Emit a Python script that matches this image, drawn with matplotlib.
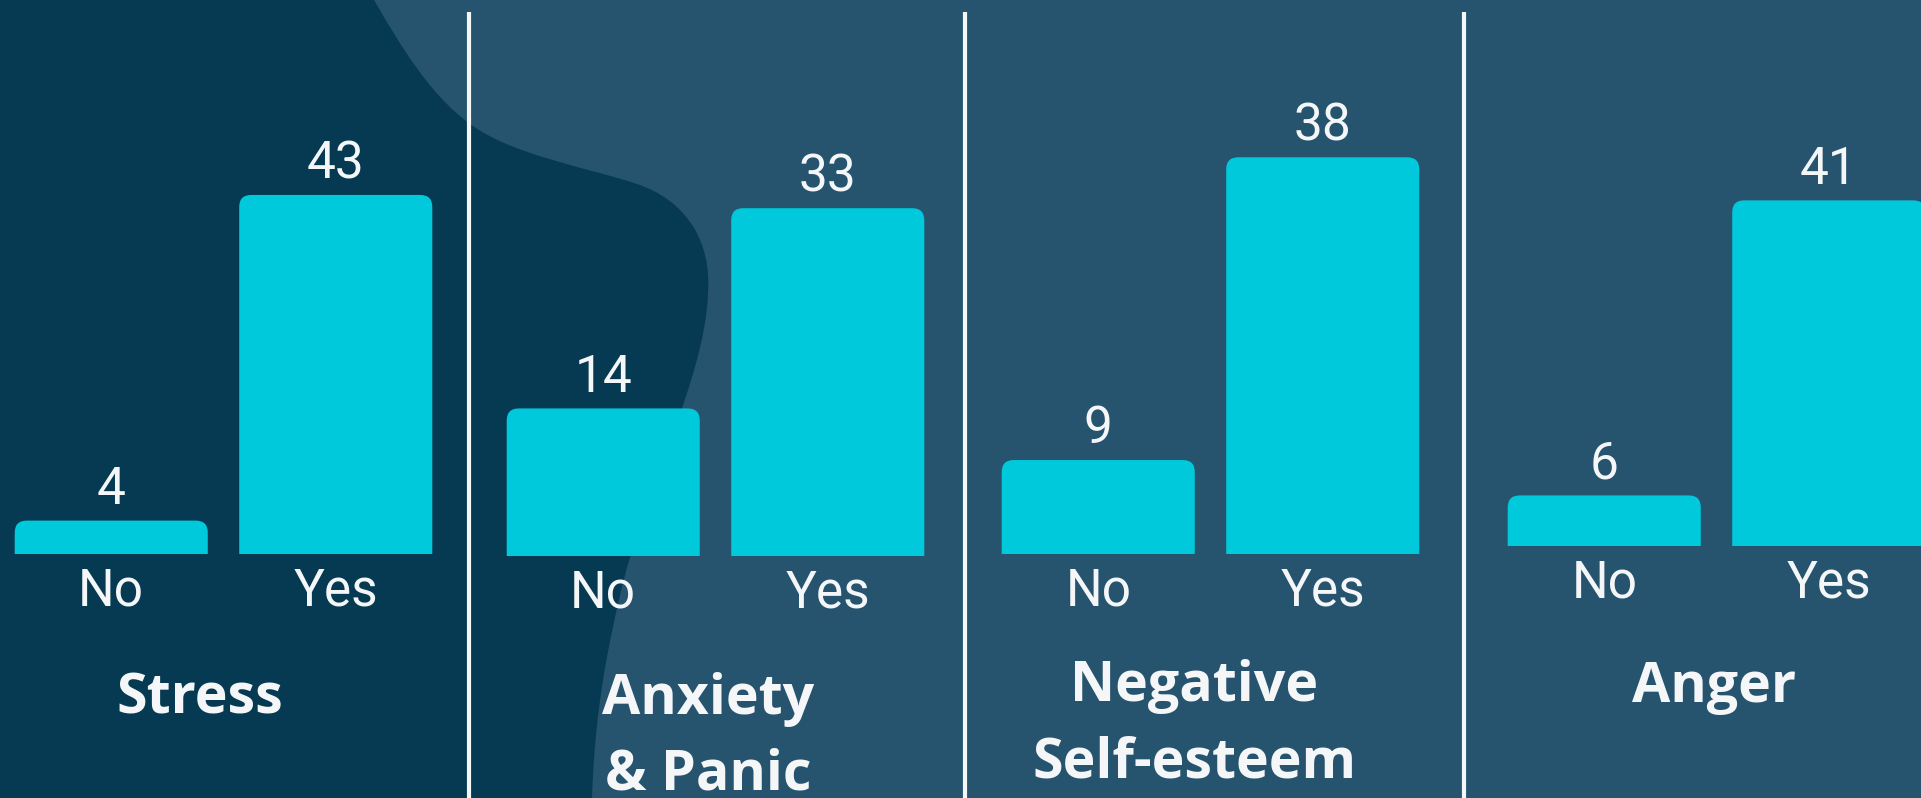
import matplotlib
matplotlib.use("Agg")
import matplotlib.pyplot as plt
from matplotlib.path import Path
from matplotlib.patches import PathPatch

# survey answers per feeling
categories = ["Stress", "Anxiety\n& Panic", "Negative\nSelf-esteem", "Anger"]
answers = ["No", "Yes"]
no_counts = [4, 14, 9, 6]
yes_counts = [43, 33, 38, 41]

W, H = 1921, 798
BG_LIGHT = "#26546f"
BG_DARK = "#053a52"
BAR = "#00c9db"
TXT = "#f4f6f8"

# layout of each little chart, in pixels
panel_left = [-1, 491, 986, 1492]
panel_base = [554, 556, 554, 546]
px_per_unit = [8.35, 10.54, 10.44, 8.43]
title_x = [200, 708, 1194, 1714]
title_y = [714, 714, 701, 702]
separators = [469, 965, 1464]
panel_w = 449

fig = plt.figure(figsize=(W / 100, H / 100), dpi=100)
fig.patch.set_facecolor(BG_LIGHT)

# background with the dark blob on the left
bg = fig.add_axes([0, 0, 1, 1])
bg.set_xlim(0, W)
bg.set_ylim(H, 0)
bg.axis("off")
verts = [(0, 0), (374, 0),
         (400, 45), (430, 95), (469, 123),
         (510, 155), (590, 168), (637, 184),
         (685, 200), (712, 240), (708, 294),
         (705, 380), (640, 500), (619, 600),
         (600, 680), (594, 740), (592, 798),
         (0, 798), (0, 0)]
codes = [Path.MOVETO, Path.LINETO] + [Path.CURVE4] * 15 + [Path.LINETO, Path.CLOSEPOLY]
bg.add_patch(PathPatch(Path(verts, codes), facecolor=BG_DARK, edgecolor="none"))
for sx in separators:
    bg.plot([sx, sx], [12, H], color=TXT, lw=3, solid_capstyle="butt")


def rounded_bar(ax, x, h, width, rx, ry):
    # bar with rounded top corners and a square bottom
    x0, x1 = x - width / 2, x + width / 2
    ry = min(ry, h / 2)
    pts = [(x0, 0), (x0, h - ry), (x0, h), (x0 + rx, h),
           (x1 - rx, h), (x1, h), (x1, h - ry), (x1, 0), (x0, 0)]
    cds = [Path.MOVETO, Path.LINETO, Path.CURVE3, Path.CURVE3,
           Path.LINETO, Path.CURVE3, Path.CURVE3, Path.LINETO, Path.CLOSEPOLY]
    ax.add_patch(PathPatch(Path(pts, cds), facecolor=BAR, edgecolor="none", clip_on=False))


for i, cat in enumerate(categories):
    base = panel_base[i]
    ax = fig.add_axes([panel_left[i] / W, (H - base) / H, panel_w / W, base / H])
    ax.set_xlim(-0.5, 1.5)
    ax.set_ylim(0, base / px_per_unit[i])
    ax.axis("off")
    rx = 12 * 2 / panel_w
    ry = 12 / px_per_unit[i]
    vals = [no_counts[i], yes_counts[i]]
    for j, v in enumerate(vals):
        rounded_bar(ax, j, v, 0.86, rx, ry)
        ax.annotate(str(v), (j, v), xytext=(0, 12), textcoords="offset points",
                    ha="center", va="baseline", color=TXT, fontsize=37,
                    family="Roboto", annotation_clip=False)
        ax.annotate(answers[j], (j, 0), xytext=(0, -37), textcoords="offset points",
                    ha="center", va="baseline", color=TXT, fontsize=37,
                    family="Roboto", annotation_clip=False)
    for k, line in enumerate(cat.split("\n")):
        fig.text(title_x[i] / W, (H - title_y[i] - k * 76) / H, line,
                 ha="center", va="baseline", color=TXT, fontsize=40,
                 family="Open Sans", fontweight="bold")

fig.savefig("out.png", dpi=100, facecolor=fig.get_facecolor())
